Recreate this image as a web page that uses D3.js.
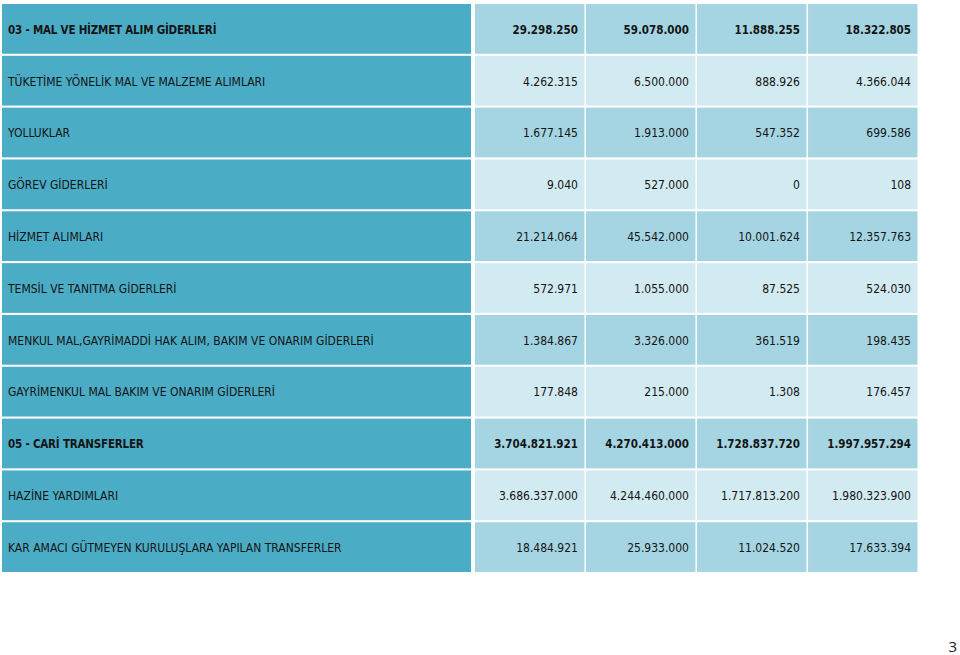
<!DOCTYPE html>
<html><head><meta charset="utf-8">
<script src="https://cdn.jsdelivr.net/npm/d3@7"></script>
<style>
html,body{margin:0;padding:0;background:#fff;}
svg{display:block;}
text{font-family:'DejaVu Sans Condensed','DejaVu Sans',sans-serif;font-stretch:condensed;}
</style></head><body>
<svg id="chart" width="960" height="655"></svg>
<script>
const categories = [
  "03 - MAL VE HİZMET ALIM GİDERLERİ",
  "TÜKETİME YÖNELİK MAL VE MALZEME ALIMLARI",
  "YOLLUKLAR",
  "GÖREV GİDERLERİ",
  "HİZMET ALIMLARI",
  "TEMSİL VE TANITMA GİDERLERİ",
  "MENKUL MAL,GAYRİMADDİ HAK ALIM, BAKIM VE ONARIM GİDERLERİ",
  "GAYRİMENKUL MAL BAKIM VE ONARIM GİDERLERİ",
  "05 - CARİ TRANSFERLER",
  "HAZİNE YARDIMLARI",
  "KAR AMACI GÜTMEYEN KURULUŞLARA YAPILAN TRANSFERLER"
];
const bold = [true,false,false,false,false,false,false,false,true,false,false];
const col1 = ["29.298.250","4.262.315","1.677.145","9.040","21.214.064","572.971","1.384.867","177.848","3.704.821.921","3.686.337.000","18.484.921"];
const col2 = ["59.078.000","6.500.000","1.913.000","527.000","45.542.000","1.055.000","3.326.000","215.000","4.270.413.000","4.244.460.000","25.933.000"];
const col3 = ["11.888.255","888.926","547.352","0","10.001.624","87.525","361.519","1.308","1.728.837.720","1.717.813.200","11.024.520"];
const col4 = ["18.322.805","4.366.044","699.586","108","12.357.763","524.030","198.435","176.457","1.997.957.294","1.980.323.900","17.633.394"];
const columns = [col1, col2, col3, col4];
const pageNumber = "3";

const svg = d3.select("#chart");
const y = d3.scaleBand().domain(d3.range(categories.length)).range([4, 572]).paddingInner(0.04);
const x = d3.scaleBand().domain(d3.range(columns.length)).range([475, 917.5]).paddingInner(0.014);
const labelX0 = 2, labelX1 = 471;

const rows = svg.selectAll("g.row").data(categories).join("g").attr("class","row")
  .attr("transform",(d,i)=>`translate(0,${y(i)})`);

rows.append("rect").attr("x",labelX0).attr("width",labelX1-labelX0).attr("height",y.bandwidth())
  .attr("fill","#4BACC6");
rows.append("text").attr("x",8).attr("y",y.bandwidth()/2+0.5).attr("dy","0.36em")
  .attr("font-size",(d,i)=>bold[i]?11.5:12).attr("font-weight",(d,i)=>bold[i]?"bold":"normal")
  .attr("letter-spacing",(d,i)=>bold[i]?-0.2:0)
  .attr("fill","#141414").text(d=>d);

columns.forEach((col,ci)=>{
  rows.append("rect").attr("x",x(ci)).attr("width",x.bandwidth()).attr("height",y.bandwidth())
    .attr("fill",(d,i)=> i%2===0 ? "#A5D5E2" : "#D2EAF1");
  rows.append("text").attr("x",x(ci)+x.bandwidth()-6.5).attr("y",y.bandwidth()/2+0.5).attr("dy","0.36em")
    .attr("text-anchor","end").attr("font-size",(d,i)=>bold[i]?11.5:12)
    .attr("font-weight",(d,i)=>bold[i]?"bold":"normal")
    .attr("fill","#141414").text((d,i)=>col[i]);
});

svg.append("text").attr("x",957).attr("y",652).attr("text-anchor","end")
  .style("font-family","'Open Sans',sans-serif").style("font-stretch","normal")
  .attr("font-size",15).attr("fill","#222").text(pageNumber);
</script>
</body></html>
